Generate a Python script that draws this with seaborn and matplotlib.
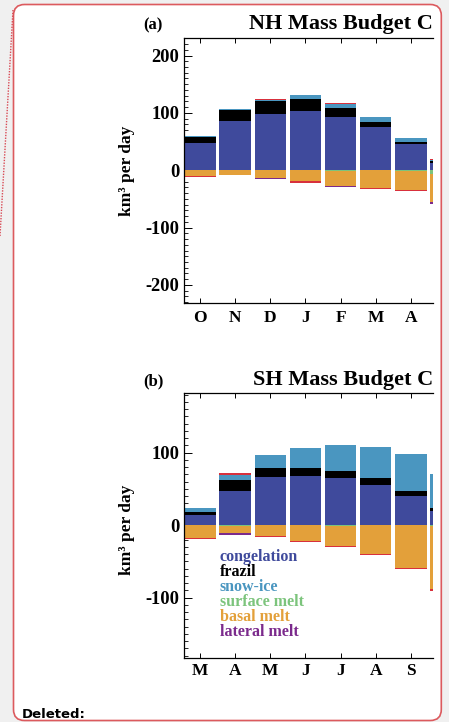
import matplotlib
matplotlib.use("Agg")
import matplotlib.pyplot as plt
import seaborn as sns
import numpy as np
import pandas as pd
from matplotlib.patches import FancyBboxPatch
from matplotlib.ticker import MultipleLocator

sns.set_style("ticks")
plt.rcParams["font.family"] = ["Liberation Serif", "DejaVu Serif"]
plt.rcParams["font.weight"] = "bold"
plt.rcParams["axes.unicode_minus"] = False

# ---------------- data ----------------
nh_months = ["O", "N", "D", "J", "F", "M", "A", "M"]
nh_congelation = [47.0, 85.5, 97.7, 102.9, 92.4, 75.0, 45.3, 13.4]
nh_frazil = [11.0, 19.2, 23.2, 20.9, 15.7, 8.7, 3.5, 2.3]
nh_snow_ice = [1.8, 1.7, 2.3, 7.0, 7.0, 8.7, 7.0, 1.7]
nh_other_growth = [0.0, 0.0, 1.7, 0.0, 1.5, 0.0, 0.0, 1.8]
nh_surface_melt = [0.0, 0.0, 0.0, 0.0, 1.5, 0.0, 2.0, 7.0]
nh_basal_melt = [10.0, 8.0, 13.4, 19.5, 25.8, 30.2, 32.3, 48.2]
nh_lateral_melt = [0.0, 0.0, 2.0, 0.0, 1.5, 0.0, 0.0, 3.5]
nh_other_melt = [1.5, 1.0, 0.0, 2.0, 0.0, 2.0, 1.8, 0.0]

sh_months = ["M", "A", "M", "J", "J", "A", "S", "O"]
sh_congelation = [13.8, 46.9, 66.2, 67.6, 64.8, 55.2, 40.0, 19.3]
sh_frazil = [3.7, 15.2, 12.4, 11.0, 9.7, 9.7, 6.9, 4.1]
sh_snow_ice = [6.0, 7.8, 17.9, 27.6, 35.9, 42.8, 51.0, 46.9]
sh_other_growth = [0.0, 1.4, 0.0, 0.0, 0.0, 0.0, 0.0, 0.0]
sh_surface_melt = [0.0, 1.0, 0.0, 0.0, 0.8, 0.0, 0.0, 1.5]
sh_basal_melt = [18.4, 10.5, 15.2, 22.0, 28.2, 39.5, 58.9, 86.8]
sh_lateral_melt = [0.0, 1.8, 0.0, 0.0, 0.0, 0.0, 0.0, 0.0]
sh_other_melt = [1.4, 0.0, 1.3, 1.4, 1.3, 1.7, 1.8, 2.0]

legend_labels = ["congelation", "frazil", "snow-ice", "surface melt", "basal melt", "lateral melt"]

# ---------------- style ----------------
C_CONG = "#3f4a9c"
C_FRAZ = "#000000"
C_SNOW = "#4a96c0"
C_SURF = "#7cc47c"
C_BASAL = "#e3a03a"
C_LAT = "#7b2a8c"
C_RED = "#d8303c"
legend_colors = [C_CONG, C_FRAZ, C_SNOW, C_SURF, C_BASAL, C_LAT]

W, H = 449, 722
fig = plt.figure(figsize=(W / 100, H / 100), dpi=100, facecolor="#f0f0f0")

bg = fig.add_axes([0, 0, 1, 1])
bg.set_xlim(0, W)
bg.set_ylim(H, 0)
bg.axis("off")
bg.add_patch(FancyBboxPatch((13.5, 4.5), 441.3 - 13.5, 720.5 - 4.5,
                            boxstyle="round,pad=0,rounding_size=11",
                            fc="white", ec="#dc5a5e", lw=1.2))
bg.plot([13, 0], [10, 236], ls=(0, (1, 1)), color="#d84a55", lw=1.0)
bg.text(22, 717.5, "Deleted:", family="DejaVu Sans", fontweight="bold",
        fontsize=9.5, va="baseline", color="black")

BAR_W = 0.89
SLOT_PX = 35.17


def px_rect(left, top, right, bottom):
    return [left / W, 1 - bottom / H, (right - left) / W, (bottom - top) / H]


def panel(rect, months, cong, fraz, snow, oth_g, surf, basal, lat, oth_m,
          ylim, yticks, xpad):
    ax = fig.add_axes(rect)
    ax.set_facecolor("none")
    idx = np.arange(len(months))
    pos = np.cumsum(np.array([cong, fraz, snow, oth_g]), axis=0)
    neg = -np.cumsum(np.array([surf, basal, lat, oth_m]), axis=0)
    pos_cols = [C_CONG, C_FRAZ, C_SNOW, C_RED]
    neg_cols = [C_SURF, C_BASAL, C_LAT, C_RED]
    for k in range(3, -1, -1):
        df = pd.DataFrame({"i": idx, "v": pos[k]})
        sns.barplot(data=df, x="i", y="v", color=pos_cols[k], width=BAR_W,
                    saturation=1, linewidth=0, errorbar=None, ax=ax)
    for k in range(3, -1, -1):
        df = pd.DataFrame({"i": idx, "v": neg[k]})
        sns.barplot(data=df, x="i", y="v", color=neg_cols[k], width=BAR_W,
                    saturation=1, linewidth=0, errorbar=None, ax=ax)
    ax.set_xlabel("")
    ax.set_ylabel("")
    ax.set_xticks(idx)
    ax.set_xticklabels(months)
    ax.set_yticks(yticks)
    ax.set_yticklabels([str(t) for t in yticks])
    ax.yaxis.set_minor_locator(MultipleLocator(10))
    right = (rect[2] * W) / SLOT_PX - BAR_W / 2
    ax.set_xlim(-BAR_W / 2, right)
    ax.set_ylim(*ylim)
    for s in ["left", "top", "bottom"]:
        ax.spines[s].set_visible(True)
        ax.spines[s].set_linewidth(0.9)
        ax.spines[s].set_color("black")
    ax.spines["right"].set_visible(False)
    ax.tick_params(axis="x", which="major", direction="in", top=True, bottom=True,
                   length=3.5, width=0.7, pad=xpad, labelsize=12.5, colors="black")
    ax.tick_params(axis="y", which="major", direction="in", left=True, right=False,
                   length=5.5, width=0.7, pad=3.6, labelsize=13.3, colors="black")
    ax.tick_params(axis="y", which="minor", direction="in", left=True, right=False,
                   length=3.2, width=0.7)
    for lab in ax.get_xticklabels() + ax.get_yticklabels():
        lab.set_fontweight("bold")
    return ax


ax1 = panel(px_rect(184.3, 38.3, 433.0, 302.7), nh_months, nh_congelation, nh_frazil,
            nh_snow_ice, nh_other_growth, nh_surface_melt, nh_basal_melt,
            nh_lateral_melt, nh_other_melt, (-231, 230), [-200, -100, 0, 100, 200], 5.5)
ax2 = panel(px_rect(184.3, 393.3, 433.0, 657.7), sh_months, sh_congelation, sh_frazil,
            sh_snow_ice, sh_other_growth, sh_surface_melt, sh_basal_melt,
            sh_lateral_melt, sh_other_melt, (-183, 182), [-100, 0, 100], 4.0)

tkw = dict(fontweight="bold", color="black", va="baseline")
bg.text(433, 28.5, "NH Mass Budget C", ha="right", fontsize=16, **tkw)
bg.text(143.5, 29.5, "(a)", ha="left", fontsize=12, **tkw)
bg.text(433, 385, "SH Mass Budget C", ha="right", fontsize=16, **tkw)
bg.text(143.5, 385.5, "(b)", ha="left", fontsize=12, **tkw)

bg.text(127, 171, "km³ per day", rotation=90, ha="center", va="center",
        fontsize=12.5, fontweight="bold", color="black")
bg.text(127, 530, "km³ per day", rotation=90, ha="center", va="center",
        fontsize=12.5, fontweight="bold", color="black")

for i, (lab, col) in enumerate(zip(legend_labels, legend_colors)):
    bg.text(220, 561 + 15 * i, lab, color=col, fontsize=11.5, fontweight="bold",
            ha="left", va="baseline")

fig.savefig("out.png", dpi=100, facecolor=fig.get_facecolor())
